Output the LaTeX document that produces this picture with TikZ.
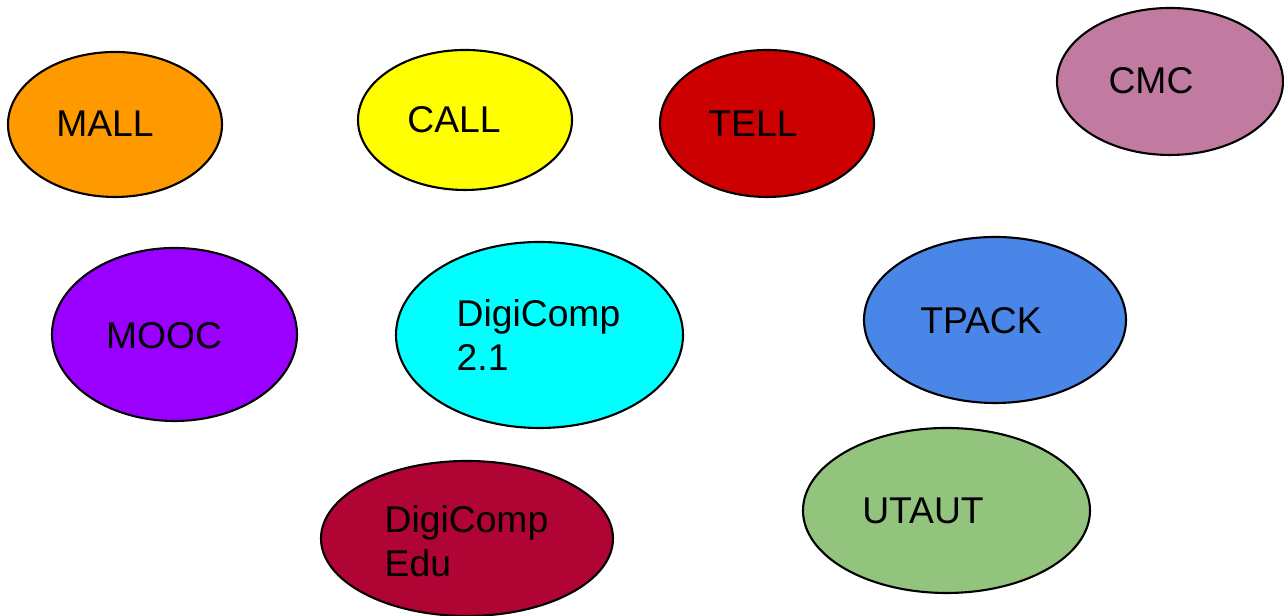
\documentclass[tikz,border=0pt]{standalone}
\usepackage{fontspec}
\setmainfont{Liberation Sans}
\usetikzlibrary{shapes.geometric,positioning}
\definecolor{mallc}{HTML}{FF9900}
\definecolor{callc}{HTML}{FFFF00}
\definecolor{tellc}{HTML}{CC0000}
\definecolor{cmcc}{HTML}{C27BA0}
\definecolor{moocc}{HTML}{9900FF}
\definecolor{digic}{HTML}{00FFFF}
\definecolor{tpackc}{HTML}{4A86E8}
\definecolor{educ}{HTML}{B00434}
\definecolor{utautc}{HTML}{93C47D}
\tikzset{font=\fontsize{10.6}{12.5}\selectfont}
\tikzset{blob/.style={ellipse,draw,line width=.6pt,inner sep=0pt}}
\tikzset{tag/.style={inner sep=0pt}}

\begin{document}
\begin{tikzpicture}
  \useasboundingbox (0,0) rectangle (12.84,6.16);
  % top row
  \node[blob,fill=mallc,minimum width=2.14cm,minimum height=1.45cm] (mall) at (1.15,4.915) {};
  \node[blob,fill=callc,minimum width=2.14cm,minimum height=1.40cm] (call) at (4.65,4.96) {};
  \node[blob,fill=tellc,minimum width=2.14cm,minimum height=1.47cm] (tell) at (7.67,4.925) {};
  \node[blob,fill=cmcc,minimum width=2.26cm,minimum height=1.47cm] (cmc) at (11.70,5.345) {};
  % middle row
  \node[blob,fill=moocc,minimum width=2.45cm,minimum height=1.73cm] (mooc) at (1.745,2.815) {};
  \node[blob,fill=digic,minimum width=2.87cm,minimum height=1.86cm] (dc) at (5.395,2.81) {};
  \node[blob,fill=tpackc,minimum width=2.62cm,minimum height=1.66cm] (tpack) at (9.95,2.96) {};
  % bottom row
  \node[blob,fill=educ,minimum width=2.92cm,minimum height=1.55cm] (edu) at (4.67,0.775) {};
  \node[blob,fill=utautc,minimum width=2.87cm,minimum height=1.65cm] (utaut) at (9.465,1.055) {};
  % labels
  \node[tag] (malltxt) at (1.05,4.92) {MALL};
  \node[tag] (calltxt) at (4.54,4.96) {CALL};
  \node[tag] (telltxt) at (7.53,4.92) {TELL};
  \node[tag] (cmctxt) at (11.51,5.35) {CMC};
  \node[tag] (mooctxt) at (1.64,2.80) {MOOC};
  \node[tag,align=left,anchor=north west] (dctxt) at (4.56,3.17) {DigiComp\\2.1};
  \node[tag] (tpacktxt) at (9.81,2.95) {TPACK};
  \node[tag,align=left,anchor=north west] (edutxt) at (3.84,1.11) {DigiComp\\Edu};
  \node[tag] (utauttxt) at (9.23,1.05) {UTAUT};
\end{tikzpicture}
\end{document}
